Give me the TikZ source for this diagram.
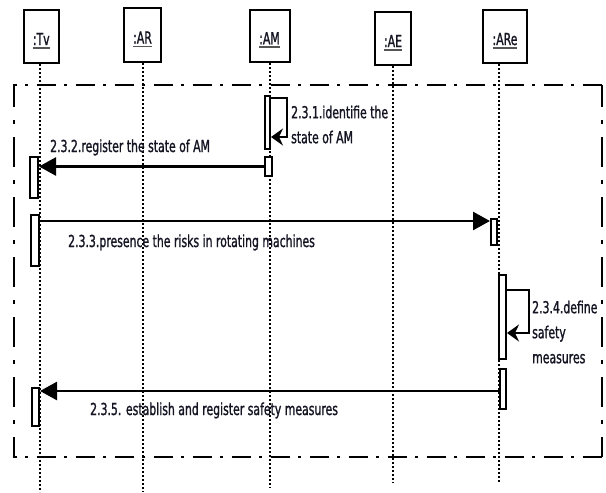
\documentclass[tikz,border=0pt]{standalone}
\usepackage{fontspec}
\setmainfont[FakeStretch=0.66,FakeBold=1.2]{DejaVu Sans}
\usetikzlibrary{arrows.meta}
\definecolor{txt}{RGB}{20,20,35}
\definecolor{ulgray}{RGB}{85,85,85}
\newcommand\lblfont{\fontsize{16.5}{25}\selectfont}
\newcommand\ulbl[1]{\setbox0\hbox{#1}\rlap{\textcolor{ulgray}{\rule[-3.8pt]{\wd0}{1.6pt}}}\box0}
\begin{document}
\begin{tikzpicture}[x=1pt,y=-1pt,
  headbox/.style={draw, line width=2pt, inner sep=0pt, text height=17pt, text depth=0pt, font=\lblfont, text=txt},
  bar/.style={draw, fill=white, line width=2pt, inner sep=0pt},
  life/.style={line width=1.8pt, dash pattern=on 2pt off 2pt},
  msg/.style={line width=2.6pt, -{Triangle[length=17pt,width=18pt]}},
  selfmsg/.style={line width=2pt, -{Stealth[length=12pt,width=17pt,inset=4pt]}},
  lbl/.style={font=\lblfont, text=txt, inner sep=0pt, anchor=base west},
  mlbl/.style={font=\lblfont, text=txt, inner sep=0pt, anchor=north west, align=left},
  fh/.style={line width=2.6pt, dash pattern=on 19pt off 8.5pt on 3pt off 8.5pt},
  fv/.style={line width=2.6pt, dash pattern=on 30pt off 13pt on 4pt off 13pt}]
\useasboundingbox (0,0) rectangle (606,493);

% heads
\node[headbox, minimum width=35.5pt, minimum height=53pt] (tvh) at (41.25,36.5) {\ulbl{:Tv}};
\node[headbox, minimum width=37pt, minimum height=54pt] (arh) at (142.5,35) {\ulbl{:AR}};
\node[headbox, minimum width=40pt, minimum height=52.5pt] (amh) at (269.5,35.75) {\ulbl{:AM}};
\node[headbox, minimum width=36pt, minimum height=53pt] (aeh) at (393,38.5) {\ulbl{:AE}};
\node[headbox, minimum width=44pt, minimum height=53pt] (areh) at (505,36.5) {\ulbl{:ARe}};

% lifelines
\coordinate (tvend) at (40,492);
\coordinate (arend) at (143,492);
\coordinate (amend) at (270,488);
\coordinate (aeend) at (393,483);
\coordinate (areend) at (499,482);
\draw[life] (tvh.south -| tvend) -- (tvend);
\draw[life] (arh.south -| arend) -- (arend);
\draw[life] (amh.south -| amend) -- (amend);
\draw[life] (aeh.south -| aeend) -- (aeend);
\draw[life] (areh.south -| areend) -- (areend);

% frame
\draw[fh, dash phase=15pt] (12.7,85) -- (603.3,85);
\draw[fv, dash phase=8pt] (14,85) -- (14,457);
\draw[fh, dash phase=15pt] (12.7,457) -- (603.3,457);
\draw[fv, dash phase=8pt] (602,85) -- (602,457);

% activation bars
\node[bar, minimum width=8pt, minimum height=41pt] (tvb1) at (34,177.5) {};
\node[bar, minimum width=8pt, minimum height=51pt] (tvb2) at (35,240.5) {};
\node[bar, minimum width=7pt, minimum height=38pt] (tvb3) at (35.5,407) {};
\node[bar, minimum width=5pt, minimum height=53pt] (amb1) at (267.5,122.5) {};
\node[bar, minimum width=7pt, minimum height=19pt] (amb2) at (268.5,166.5) {};
\node[bar, minimum width=6pt, minimum height=26pt] (areb1) at (494,232) {};
\node[bar, minimum width=7pt, minimum height=84pt] (areb2) at (502.5,317) {};
\node[bar, minimum width=6pt, minimum height=40pt] (areb3) at (503,389) {};

% messages
\coordinate (c231a) at (287,98);
\coordinate (c231b) at (287,137);
\draw[selfmsg] (amb1.east |- c231a) -- (c231a) -- (c231b) -- (amb1.east |- c231b);
\draw[msg] (amb2.west) -- (tvb1.east |- amb2.west);
\coordinate (m233e) at ([yshift=-3pt]areb1.north west);
\draw[msg] (tvb2.east |- m233e) -- (m233e);
\coordinate (c234a) at (529,290);
\coordinate (c234b) at (529,333);
\draw[selfmsg] (areb2.east |- c234a) -- (c234a) -- (c234b) -- (areb2.east |- c234b);
\coordinate (m235s) at ([yshift=-2pt]areb3.west);
\draw[msg] (m235s) -- (tvb3.east |- m235s);

% labels
\node[mlbl] (l231) at (291,105.5) {2.3.1.identifie the\\state of AM};
\node[lbl] (l232) at (50,152) {2.3.2.register the state of AM};
\node[lbl] (l233) at (68,247) {2.3.3.presence the risks in rotating machines};
\node[mlbl] (l234) at (532,300.5) {2.3.4.define\\safety\\measures};
\node[lbl] (l235) at (90,415) {2.3.5. establish and register safety measures};
\end{tikzpicture}
\end{document}
